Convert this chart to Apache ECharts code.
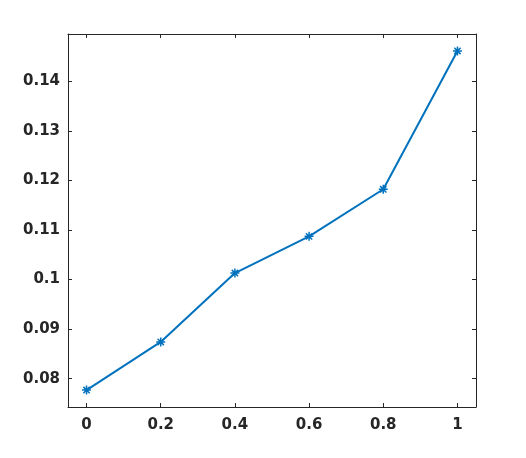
<!DOCTYPE html>
<html>
<head>
<meta charset="utf-8">
<script src="https://cdn.jsdelivr.net/npm/echarts@6/dist/echarts.min.js"></script>
<style>html,body{margin:0;padding:0;background:#fff;}#c{width:526px;height:458px;}</style>
</head>
<body>
<div id="c"></div>
<script>
const xValues = [0, 0.2, 0.4, 0.6, 0.8, 1.0];
const yValues = [0.0777, 0.0874, 0.1013, 0.1087, 0.1182, 0.1461];
const xTicks = [0, 0.2, 0.4, 0.6, 0.8, 1];
const xTickLabels = ['0', '0.2', '0.4', '0.6', '0.8', '1'];
const yTicks = [0.08, 0.09, 0.10, 0.11, 0.12, 0.13, 0.14];
const yTickLabels = ['0.08', '0.09', '0.1', '0.11', '0.12', '0.13', '0.14'];

const xMin = -0.05, xMax = 1.05;
const yMin = 0.07428, yMax = 0.14952;
const axisColor = '#262626';
const font = {fontFamily: 'DejaVu Sans', fontWeight: 'bold', fontSize: 15, color: axisColor};

function lab(ticks, labels) {
  return function (v) {
    for (let i = 0; i < ticks.length; i++) if (Math.abs(ticks[i] - v) < 1e-9) return labels[i];
    return '';
  };
}

function xAx(pos, showLabel) {
  return {
    type: 'value', position: pos, min: xMin, max: xMax,
    axisLine: {show: true, onZero: false, lineStyle: {color: axisColor, width: 1}},
    axisTick: {show: true, inside: true, length: 4, customValues: xTicks, lineStyle: {color: axisColor}},
    axisLabel: {show: showLabel, customValues: xTicks, formatter: lab(xTicks, xTickLabels), margin: 11, ...font},
    splitLine: {show: false}
  };
}
function yAx(pos, showLabel) {
  return {
    type: 'value', position: pos, min: yMin, max: yMax,
    axisLine: {show: true, onZero: false, lineStyle: {color: axisColor, width: 1}},
    axisTick: {show: true, inside: true, length: 4, customValues: yTicks, lineStyle: {color: axisColor}},
    axisLabel: {show: showLabel, customValues: yTicks, formatter: lab(yTicks, yTickLabels), margin: 8, ...font},
    splitLine: {show: false}
  };
}

const chart = echarts.init(document.getElementById('c'), null, {renderer: 'canvas'});
chart.setOption({
  animation: false,
  backgroundColor: '#fff',
  grid: {left: 68, top: 34, right: 50, bottom: 51, containLabel: false},
  xAxis: [xAx('bottom', true), xAx('top', false)],
  yAxis: [yAx('left', true), yAx('right', false)],
  series: [{
    type: 'line',
    data: xValues.map((x, i) => [x, yValues[i]]),
    lineStyle: {color: '#0072BD', width: 2},
    symbol: 'path://M0,-10L0,10M-10,0L10,0M-7,-7L7,7M-7,7L7,-7',
    symbolSize: 9,
    itemStyle: {color: 'none', borderColor: '#0072BD', borderWidth: 1.5},
    showSymbol: true
  }]
});
</script>
</body>
</html>
